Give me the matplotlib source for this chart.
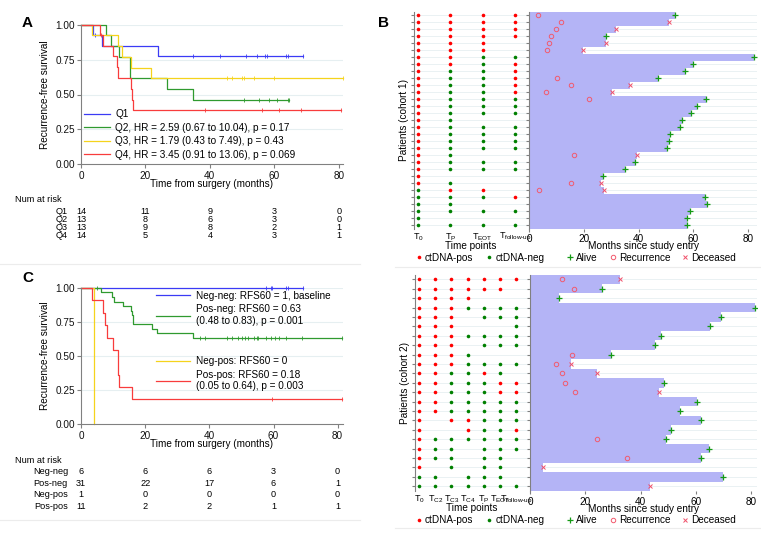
import numpy as np
import matplotlib
matplotlib.use("Agg")
import matplotlib.pyplot as plt
from matplotlib.lines import Line2D
from matplotlib.transforms import blended_transform_factory

plt.rcParams['font.family'] = ['Liberation Sans', 'DejaVu Sans']
plt.rcParams['mathtext.fontset'] = 'custom'
plt.rcParams['mathtext.rm'] = 'Liberation Sans'
plt.rcParams['mathtext.it'] = 'Liberation Sans:italic'
plt.rcParams['mathtext.bf'] = 'Liberation Sans:bold'

W, H = 761, 534
FS = 7.2
FS_TAB = 6.6
AXC = '#808080'
GRID = '#e6eff1'
BLUE, GREEN, YELLOW, RED = '#3b3bf5', '#2f9a2f', '#f5d31c', '#f83c3c'
DOT_R, DOT_G = '#ff0000', '#008000'
BAR = '#b4b4f6'

# ---- panel A: KM by quartile ----
a_labels = ["Q1", "Q2, HR = 2.59 (0.67 to 10.04), p = 0.17",
            "Q3, HR = 1.79 (0.43 to 7.49), p = 0.43",
            "Q4, HR = 3.45 (0.91 to 13.06), p = 0.069"]
a_names = ["Q1", "Q2", "Q3", "Q4"]
a_event_t = [[3.7, 6.6, 24.0],
             [7.9, 9.4, 11.7, 15.3, 26.8, 34.9],
             [3.4, 11.6, 12.6, 15.4, 21.7],
             [6.0, 6.7, 10.0, 11.3, 11.6, 15.4, 15.7, 16.1]]
a_event_s = [[0.929, 0.851, 0.774],
             [0.923, 0.846, 0.769, 0.615, 0.538, 0.462],
             [0.923, 0.846, 0.769, 0.692, 0.615],
             [0.929, 0.851, 0.774, 0.696, 0.619, 0.542, 0.464, 0.387]]
a_censor = [[4.5, 34.7, 43.3, 51.2, 54.6, 57.0, 57.7, 63.7, 64.3, 68.9],
            [50.7, 55.3, 58.5, 60.7, 64.2, 64.6],
            [45.2, 46.9, 50.1, 50.7, 53.8, 59.9, 81.2],
            [6.3, 38.5, 56.1, 61.6, 68.3, 80.6]]
a_end = [68.9, 64.6, 81.2, 80.6]
a_risk = [[14, 11, 9, 3, 0], [13, 8, 6, 3, 0], [13, 9, 8, 2, 1], [14, 5, 4, 3, 1]]

# ---- panel C: KM by ctDNA combination ----
c_labels = ["Neg-neg: RFS60 = 1, baseline",
            "Pos-neg: RFS60 = 0.63\n(0.48 to 0.83), p = 0.001",
            "Neg-pos: RFS60 = 0",
            "Pos-pos: RFS60 = 0.18\n(0.05 to 0.64), p = 0.003"]
c_names = ["Neg-neg", "Pos-neg", "Neg-pos", "Pos-pos"]
c_event_t = [[],
             [6.1, 9.8, 10.3, 13.1, 15.6, 15.9, 16.1, 16.3, 22.0, 23.6, 35.0],
             [3.9],
             [3.4, 6.9, 7.4, 8.2, 9.9, 11.5, 11.6, 11.7, 16.0]]
c_event_s = [[],
             [0.967, 0.933, 0.900, 0.867, 0.833, 0.800, 0.767, 0.733, 0.700, 0.667, 0.633],
             [0.0],
             [0.909, 0.818, 0.727, 0.636, 0.545, 0.455, 0.364, 0.273, 0.182]]
c_censor = [[57.8, 59.1, 59.6, 63.9, 64.6, 69.3],
            [4.9, 37.0, 38.5, 45.4, 47.0, 48.9, 50.3, 51.1, 52.0, 53.9, 54.8, 55.3,
             57.6, 59.1, 60.5, 61.8, 64.0, 68.8, 81.4],
            [],
            [59.5, 81.4]]
c_end = [69.3, 81.4, 3.9, 81.4]
c_risk = [[6, 6, 6, 3, 0], [31, 22, 17, 6, 1], [1, 0, 0, 0, 0], [11, 2, 2, 1, 1]]
risk_times = [0, 20, 40, 60, 80]

# ---- panel B: swimmer plots (R = ctDNA-pos, G = ctDNA-neg, - = missing) ----
c1_points = [r"$\mathrm{T}_{\mathrm{0}}$", r"$\mathrm{T}_{\mathrm{P}}$",
             r"$\mathrm{T}_{\mathrm{EOT}}$", r"$\mathrm{T}_{\text{follow-up}}$"]
c1_status = ["RRRR", "RRRR", "RRRR", "RRRR", "RRR-", "RRR-", "RRGG", "RRGR",
             "RGGR", "RGGR", "RGGR", "RGGR", "RGGG", "RGGG", "RGGG", "RG--",
             "RGGG", "RGGG", "RGGG", "RGGG", "RG--", "RGGG", "RGGG", "R---",
             "RG--", "GRR-", "GGGR", "GG--", "GGGG", "G---", "GGGG"]
c1_rec = [3.3, 11.6, 9.7, 7.9, 7.4, 6.6, None, None, None, 10.3, 15.3, 6.1,
          21.9, None, None, None, None, None, None, None, 16.3, None, None, None,
          15.5, 3.8, None, None, None, None, None]
c1_end = [53.4, 51.0, 31.9, 28.2, 28.2, 19.6, 82.1, 60.0, 56.8, 47.1, 37.0, 30.4,
          64.6, 61.2, 59.2, 55.7, 55.1, 51.6, 51.0, 50.2, 39.4, 38.8, 35.0, 27.0,
          26.4, 27.5, 64.2, 64.8, 58.6, 57.8, 57.5]
c1_outcome = "ADDADDAAAADDAAAAAAAADAAADDAAAAA"

c2_points = [r"$\mathrm{T}_{\mathrm{0}}$", r"$\mathrm{T}_{\mathrm{C2}}$",
             r"$\mathrm{T}_{\mathrm{C3}}$", r"$\mathrm{T}_{\mathrm{C4}}$",
             r"$\mathrm{T}_{\mathrm{P}}$", r"$\mathrm{T}_{\mathrm{EOT}}$",
             r"$\mathrm{T}_{\text{follow-up}}$"]
c2_status = ["RRRRRRR", "RRRRRR-", "RRRR---", "RRRGGGG", "RRR-GGG", "RRR---G",
             "RRRGGGG", "RRR-GGG", "RRRG---", "RRRGGGG", "RRGGRG-", "RRGGGRR",
             "RRGGGRR", "RRGGGGG", "RRGGGGG", "R-RRGGG", "R--RGGR", "RGGGGGG",
             "RGG-GGG", "RGG-GG-", "R-G-GG-", "GG-GGG-", "GGGGGGG"]
c2_rec = [11.5, 15.7, None, None, None, None, None, None, 15.2, 9.3, 11.6, 12.7,
          16.1, None, None, None, None, 24.3, None, 35.2, None, None, None]
c2_end = [32.4, 26.1, 10.3, 81.6, 69.0, 65.1, 47.4, 45.3, 29.2, 14.6, 24.3, 48.6,
          46.5, 60.4, 54.1, 61.9, 51.0, 49.1, 64.9, 62.0, 4.5, 69.7, 43.5]
c2_outcome = "DAAAAAAAADDADAAAAAAADAD"

fig = plt.figure(figsize=(W / 100, H / 100), dpi=100)


def rect(x0, y0, x1, y1):
    return [x0 / W, 1 - y1 / H, (x1 - x0) / W, (y1 - y0) / H]


def style_km(ax, xmax):
    ax.set_xlim(0, xmax)
    ax.set_ylim(0, 1)
    for s in ('top', 'right'):
        ax.spines[s].set_visible(False)
    for s in ('left', 'bottom'):
        ax.spines[s].set_color(AXC)
        ax.spines[s].set_linewidth(0.8)
    ax.set_xticks(risk_times)
    ax.set_yticks([0, 0.25, 0.5, 0.75, 1.0])
    ax.set_yticklabels(["0.00", "0.25", "0.50", "0.75", "1.00"])
    ax.tick_params(colors=AXC, labelcolor='#111111', labelsize=FS, length=3, width=0.8, pad=1.5)
    for v in (0.25, 0.5, 0.75, 1.0):
        ax.axhline(v, color=GRID, lw=0.8, zorder=0)
    ax.set_xlabel("Time from surgery (months)", fontsize=FS, labelpad=-1)
    ax.set_ylabel("Recurrence-free survival", fontsize=FS, labelpad=4)


def km(ax, t_ev, s_ev, t_cens, t_end, color, label):
    x = np.r_[0, t_ev, t_end]
    y = np.r_[1, s_ev, s_ev[-1] if len(s_ev) else 1]
    ln, = ax.step(x, y, where='post', color=color, lw=0.9, label=label, clip_on=False)
    if len(t_cens):
        levels = np.r_[1, s_ev]
        s_at = levels[np.searchsorted(t_ev, t_cens, side='right')]
        ax.plot(t_cens, s_at, ls='', marker='|', ms=3.5, mew=0.6, color=color, clip_on=False)
    return ln


def risk_table(ax, names, risk, y_title, y_rows):
    tr = blended_transform_factory(ax.transData, fig.transFigure)
    fig.text(15 / W, 1 - y_title / H, "Num at risk", fontsize=FS_TAB, va='center')
    for name, vals, yy in zip(names, risk, y_rows):
        fig.text(68 / W, 1 - yy / H, name, fontsize=FS_TAB, ha='right', va='center')
        for t, v in zip(risk_times, vals):
            ax.text(t, 1 - yy / H, str(v), transform=tr, fontsize=FS_TAB, ha='center', va='center')


# panel A
axA = fig.add_axes(rect(81, 24.7, 342.9, 164.3))
style_km(axA, 81.3)
colors = [BLUE, GREEN, YELLOW, RED]
hA = [km(axA, a_event_t[i], a_event_s[i], a_censor[i], a_end[i], colors[i], a_labels[i])
      for i in range(4)]
axA.legend(handles=hA, loc='upper left', bbox_to_anchor=(0.012, 0.395), frameon=False,
           fontsize=FS, handlelength=2.6, handletextpad=0.5, labelspacing=0.35,
           borderpad=0, borderaxespad=0)
risk_table(axA, a_names, a_risk, 200, [211.3, 219.7, 227.6, 235.6])

# panel C
axC = fig.add_axes(rect(81, 288, 342.5, 424.3))
style_km(axC, 81.5)
hC = [km(axC, c_event_t[i], c_event_s[i], c_censor[i], c_end[i], colors[i], c_labels[i])
      for i in range(4)]
leg1 = axC.legend(handles=hC[:2], loc='upper left', bbox_to_anchor=(0.288, 0.978), frameon=False,
                  fontsize=FS, handlelength=3.4, handletextpad=0.6, labelspacing=0.35,
                  borderpad=0, borderaxespad=0)
axC.add_artist(leg1)
axC.legend(handles=hC[2:], loc='upper left', bbox_to_anchor=(0.288, 0.50), frameon=False,
           fontsize=FS, handlelength=3.4, handletextpad=0.6, labelspacing=0.35,
           borderpad=0, borderaxespad=0)
risk_table(axC, c_names, c_risk, 460.7, [472, 483.3, 494.7, 506.3])


# panel B
def swimmer(drect, brect, bxmax, points, status, rec, end, outcome, ylab, leg_y):
    axd = fig.add_axes(drect)
    axb = fig.add_axes(brect, sharey=axd)
    n = len(status)
    rows = np.arange(1, n + 1)
    for j in range(len(points)):
        col = np.array([s[j] for s in status])
        for code, c in (("R", DOT_R), ("G", DOT_G)):
            r = rows[col == code]
            axd.plot(np.full(len(r), j + 1), r, ls='', marker='o', ms=2.6, color=c, mec='none')
    span = drect[2] * W
    step = (span - 4 - 12) / (len(points) - 1)
    axd.set_xlim(1 - 4 / step, len(points) + 12 / step)
    axd.set_ylim(n + 0.5, 0.5)
    axd.set_xticks(np.arange(1, len(points) + 1))
    axd.set_xticklabels(points)
    axd.set_yticks(rows)
    axd.tick_params(axis='x', length=0, labelsize=6.5, pad=2)
    axd.tick_params(axis='y', length=2, color=AXC, labelleft=False)
    axd.set_xlabel("Time points", fontsize=FS, labelpad=-2)
    axd.set_ylabel(ylab, fontsize=FS, labelpad=1.5)

    end = np.array(end)
    axb.barh(rows, end, height=1.0, color=BAR, lw=0, zorder=1)
    rec_r = [r for r, v in zip(rows, rec) if v is not None]
    rec_v = [v for v in rec if v is not None]
    axb.plot(rec_v, rec_r, ls='', marker='o', ms=3.2, mfc='none', mec='#f25a6e', mew=0.7, zorder=3)
    oc = np.array(list(outcome))
    axb.plot(end[oc == 'A'], rows[oc == 'A'], ls='', marker='+', ms=4, mew=0.9, color='#159a15', zorder=3)
    axb.plot(end[oc == 'D'], rows[oc == 'D'], ls='', marker='x', ms=3, mew=0.7, color='#f0506a', zorder=3)
    axb.set_xlim(0, bxmax)
    axb.set_xticks(risk_times)
    axb.tick_params(axis='x', length=2, color=AXC, labelsize=FS, pad=2)
    axb.tick_params(axis='y', length=2, color=AXC, labelleft=False)
    axb.set_xlabel("Months since study entry", fontsize=FS, labelpad=-2)

    for ax in (axd, axb):
        ax.grid(axis='y', color=GRID, lw=0.6, zorder=0)
        ax.set_axisbelow(True)
        for s in ('top', 'right', 'bottom'):
            ax.spines[s].set_visible(False)
        ax.spines['left'].set_color(AXC)
        ax.spines['left'].set_linewidth(0.8)

    h1 = [Line2D([], [], ls='', marker='o', ms=2.6, color=DOT_R, mec='none'),
          Line2D([], [], ls='', marker='o', ms=2.6, color=DOT_G, mec='none')]
    fig.legend(handles=h1, labels=["ctDNA-pos", "ctDNA-neg"], loc='center left',
               bbox_to_anchor=(415 / W, 1 - leg_y / H), ncol=2, frameon=False, fontsize=FS,
               handlelength=0.8, handletextpad=0.2, columnspacing=1.2, borderpad=0,
               borderaxespad=0)
    h2 = [Line2D([], [], ls='', marker='+', ms=4, mew=0.9, color='#159a15'),
          Line2D([], [], ls='', marker='o', ms=3.2, mfc='none', mec='#f25a6e', mew=0.7),
          Line2D([], [], ls='', marker='x', ms=3, mew=0.7, color='#f0506a')]
    fig.legend(handles=h2, labels=["Alive", "Recurrence", "Deceased"], loc='center left',
               bbox_to_anchor=(566 / W, 1 - leg_y / H), ncol=3, frameon=False, fontsize=FS,
               handlelength=0.8, handletextpad=0.2, columnspacing=1.1, borderpad=0,
               borderaxespad=0)


swimmer(rect(414, 11.5, 527, 228.5), rect(529, 11.5, 757, 228.5), (757 - 529) / 2.741,
        c1_points, c1_status, c1_rec, c1_end, c1_outcome, "Patients (cohort 1)", 257.7)
swimmer(rect(415, 274.6, 528, 491), rect(530.3, 274.6, 757, 491), (757 - 530.3) / 2.759,
        c2_points, c2_status, c2_rec, c2_end, c2_outcome, "Patients (cohort 2)", 520)

# faint separators under each sub-graph
for x0, x1, y in ((0, 360, 264), (395, 761, 266.7), (0, 360, 520), (395, 761, 528)):
    fig.add_artist(Line2D([x0 / W, x1 / W], [1 - y / H, 1 - y / H], color='#ececec', lw=0.8))

for letter, x, y in (("A", 22, 23), ("B", 378, 23), ("C", 22, 277.5)):
    fig.text(x / W, 1 - y / H, letter, fontsize=11, fontweight='bold', va='center')

fig.savefig("out.png", dpi=100)
